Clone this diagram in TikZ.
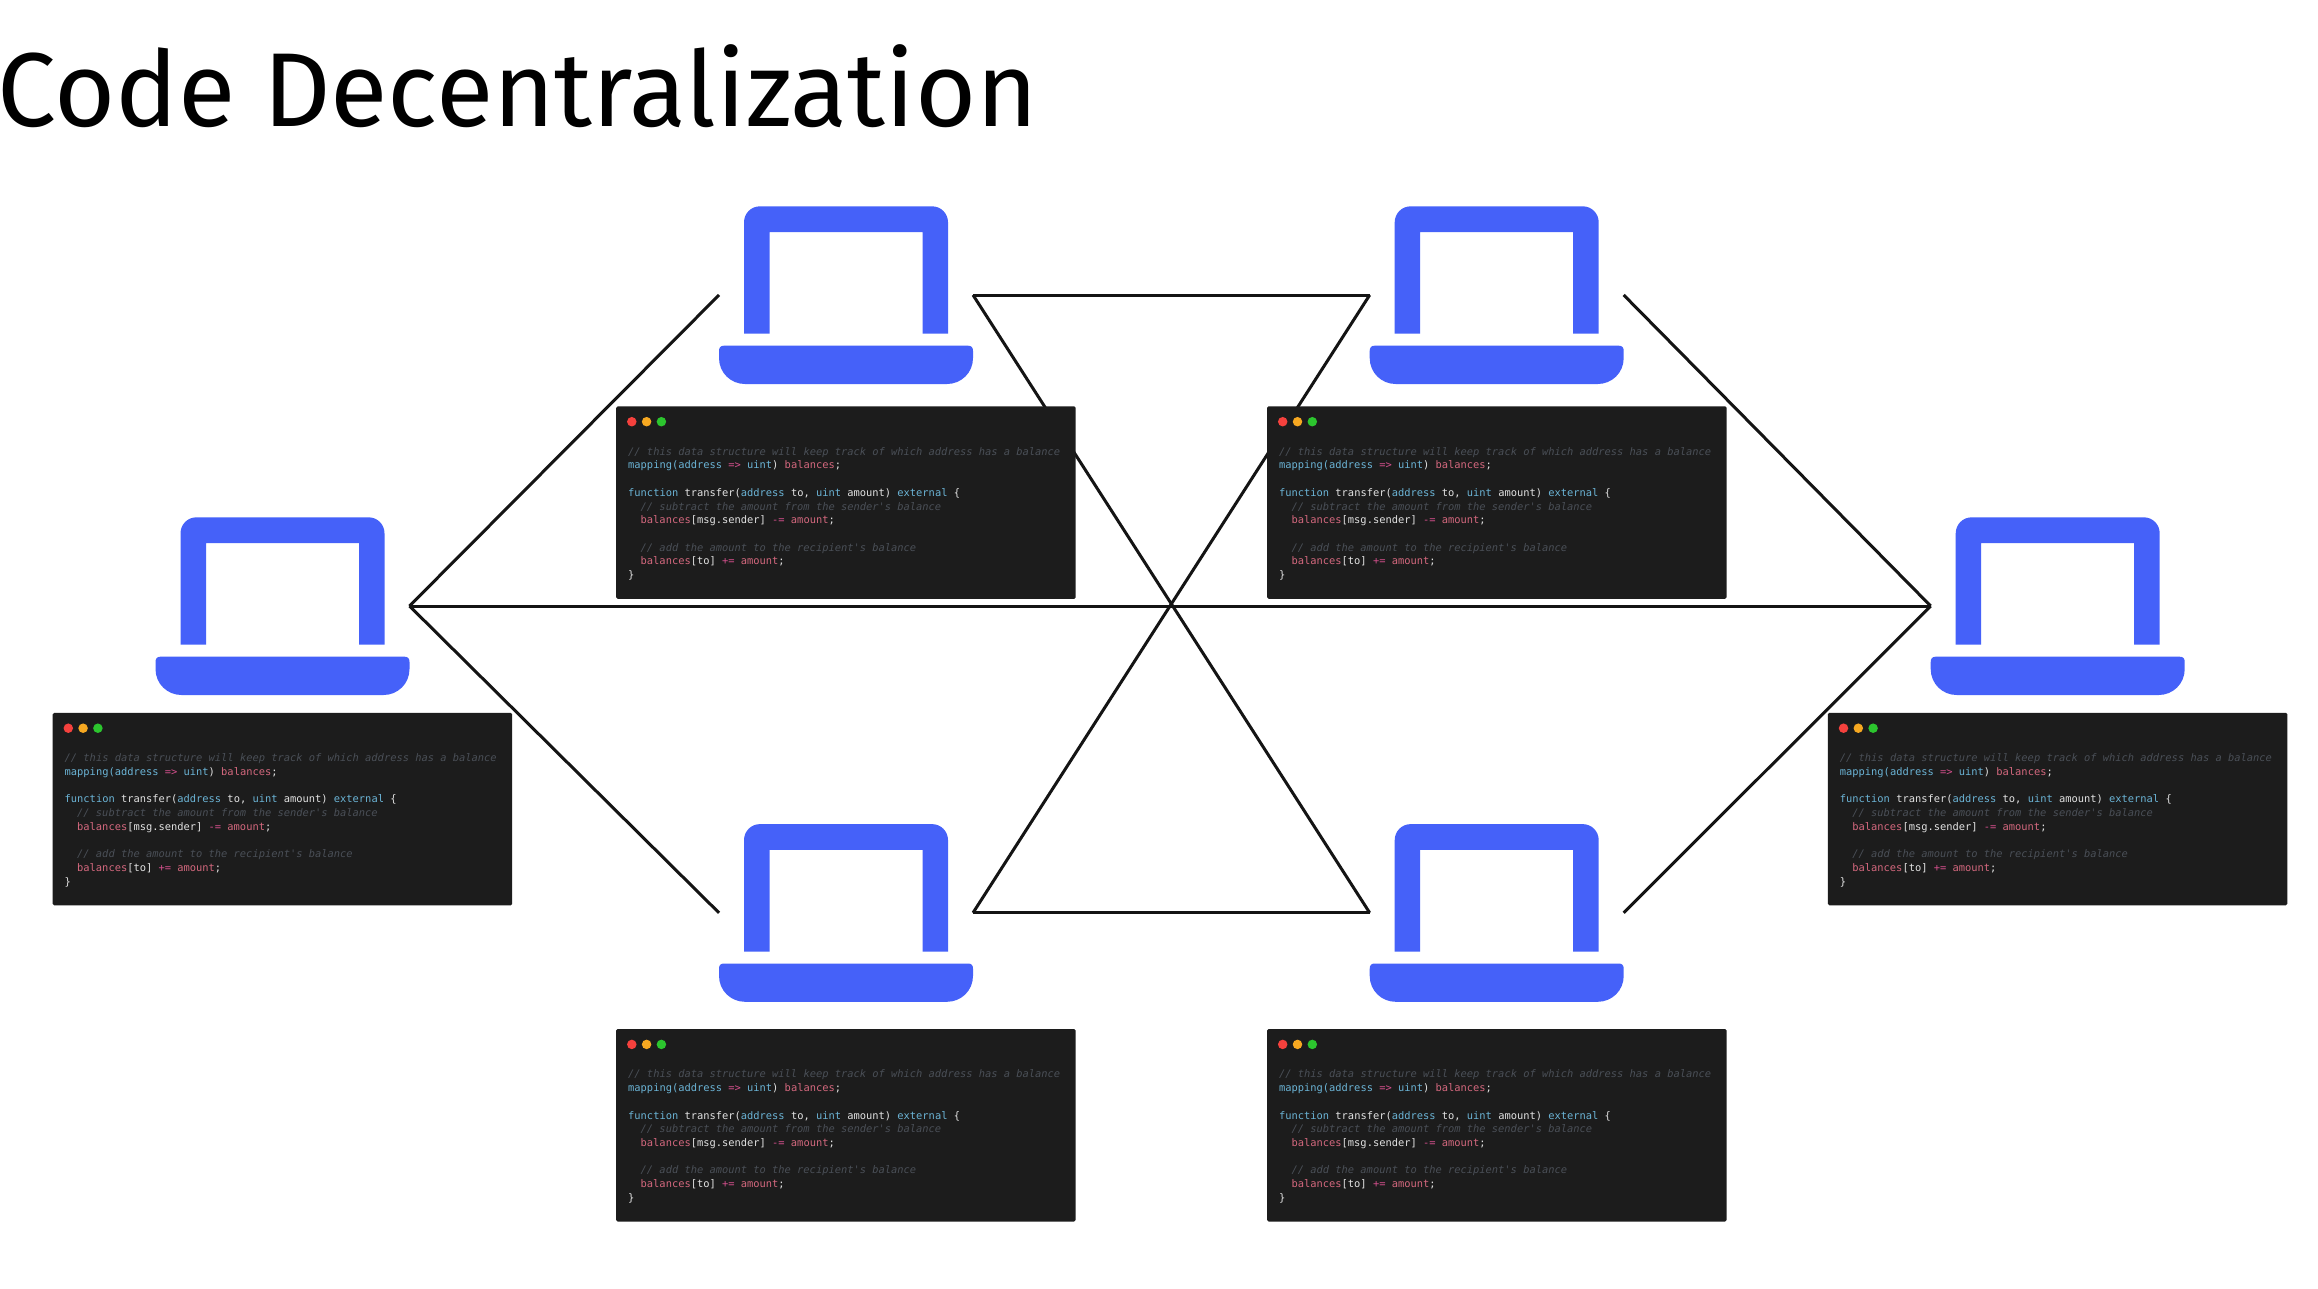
\documentclass[tikz,border=0pt]{standalone}
\usepackage{fontspec}
\setmainfont{Fira Sans}
\newfontfamily\codefont{DejaVu Sans Mono}
\definecolor{lapblue}{HTML}{4561F9}
\definecolor{codebg}{HTML}{1C1C1C}
\definecolor{cmt}{HTML}{4A4F57}
\definecolor{kwc}{HTML}{6BB4D6}
\definecolor{vrc}{HTML}{D4687E}
\definecolor{opc}{HTML}{D44F8C}
\definecolor{txc}{HTML}{E2E2E2}
\definecolor{dotr}{HTML}{F5413D}
\definecolor{doto}{HTML}{F6A821}
\definecolor{dotg}{HTML}{2CC52E}
\tikzset{
  x=1pt,y=-1pt,
  laptop/.style={minimum width=254pt,minimum height=178pt,inner sep=0pt,outer sep=0pt},
  link/.style={draw=black!92,line width=3pt},
  blue part/.style={fill=lapblue,draw=none},
  code panel/.style={fill=codebg,draw=none,rounded corners=1.5pt,minimum width=459.5pt,minimum height=192.5pt,inner sep=0pt,outer sep=0pt,anchor=north west},
  code text/.style={anchor=north west,inner sep=0pt,outer sep=0pt,align=left,font=\codefont\fontsize{10.4pt}{13.7pt}\selectfont,text=txc},
  win dot/.style={circle,minimum size=9.5pt,inner sep=0pt},
}
\newcommand{\cmnt}[1]{\textcolor{cmt}{\itshape #1}}
\newcommand{\kwd}[1]{\textcolor{kwc}{#1}}
\newcommand{\vrb}[1]{\textcolor{vrc}{#1}}
\newcommand{\opr}[1]{\textcolor{opc}{#1}}
% laptop icon, drawn around the centre (#1,#2) of its node
\newcommand{\lapdraw}[2]{%
  \fill[blue part] (#1-102,#2+38.7) -- (#1-102,#2-72.7)
    .. controls (#1-102,#2-81.5) and (#1-95,#2-88.7) .. (#1-86,#2-88.7)
    -- (#1+86,#2-88.7)
    .. controls (#1+95,#2-88.7) and (#1+102,#2-81.5) .. (#1+102,#2-72.7)
    -- (#1+102,#2+38.7) -- (#1+76.5,#2+38.7) -- (#1+76.5,#2-63)
    -- (#1-76.5,#2-63) -- (#1-76.5,#2+38.7) -- cycle;
  \fill[blue part] (#1-122,#2+50.7) -- (#1+122,#2+50.7)
    .. controls (#1+125.5,#2+50.7) and (#1+127,#2+52.5) .. (#1+127,#2+56)
    -- (#1+127,#2+63)
    .. controls (#1+127,#2+78) and (#1+115,#2+89) .. (#1+101,#2+89)
    -- (#1-101,#2+89)
    .. controls (#1-115,#2+89) and (#1-127,#2+78) .. (#1-127,#2+63)
    -- (#1-127,#2+56)
    .. controls (#1-127,#2+52.5) and (#1-125.5,#2+50.7) .. (#1-122,#2+50.7) -- cycle;
}
\newcommand{\codepanel}[3]{%
  \node[code panel] (#1) at (#2,#3) {};
  \node[win dot,fill=dotr] (#1r) at (#2+15.6,#3+15.4) {};
  \node[win dot,fill=doto] (#1o) at (#2+30.4,#3+15.4) {};
  \node[win dot,fill=dotg] (#1g) at (#2+45.2,#3+15.4) {};
  \node[code text] (#1t) at (#2+12,#3+41) {%
    \cmnt{// this data structure will keep track of which address has a balance}\\
    \kwd{mapping(address} \opr{=>} \kwd{uint}) \vrb{balances};\\[13.7pt]
    \kwd{function} transfer(\kwd{address} to, \kwd{uint} amount) \kwd{external} \{\\
    \hspace*{12.5pt}\cmnt{// subtract the amount from the sender's balance}\\
    \hspace*{12.5pt}\vrb{balances}[msg.sender] \opr{-=} \vrb{amount};\\[13.7pt]
    \hspace*{12.5pt}\cmnt{// add the amount to the recipient's balance}\\
    \hspace*{12.5pt}\vrb{balances}[to] \opr{+=} \vrb{amount};\\
    \}};
}
\begin{document}
\begin{tikzpicture}
\useasboundingbox (0,0) rectangle (2318,1288);
\fill[white] (0,0) rectangle (2318,1288);
\node[anchor=base west,inner sep=0pt,font=\fontsize{105pt}{110pt}\selectfont] (title) at (-3,126) {Code Decentralization};
\node[laptop] (L) at (282.5,606) {};
\node[laptop] (R) at (2057.7,606) {};
\node[laptop] (TL) at (846,295) {};
\node[laptop] (TR) at (1496.7,295) {};
\node[laptop] (BL) at (846,912.8) {};
\node[laptop] (BR) at (1496.7,912.8) {};
\draw[link] (L.east) -- (TL.west);
\draw[link] (L.east) -- (BL.west);
\draw[link] (L.east) -- (R.west);
\draw[link] (TL.east) -- (TR.west);
\draw[link] (TL.east) -- (BR.west);
\draw[link] (TR.west) -- (BL.east);
\draw[link] (BL.east) -- (BR.west);
\draw[link] (TR.east) -- (R.west);
\draw[link] (BR.east) -- (R.west);
\lapdraw{282.5}{606}
\lapdraw{2057.7}{606}
\lapdraw{846}{295}
\lapdraw{1496.7}{295}
\lapdraw{846}{912.8}
\lapdraw{1496.7}{912.8}
\codepanel{cL}{52.7}{712.8}
\codepanel{cR}{1827.9}{712.8}
\codepanel{cTL}{616.2}{406.3}
\codepanel{cTR}{1267.1}{406.3}
\codepanel{cBL}{616.2}{1029}
\codepanel{cBR}{1267.1}{1029}
\end{tikzpicture}
\end{document}
